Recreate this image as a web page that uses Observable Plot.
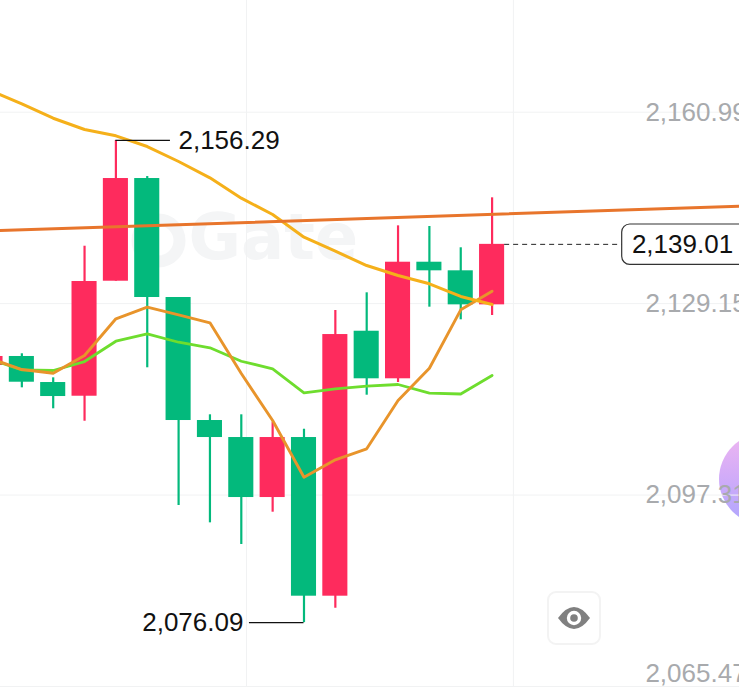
<!DOCTYPE html>
<html>
<head>
<meta charset="utf-8">
<script src="https://cdn.jsdelivr.net/npm/d3@7"></script>
<script src="https://cdn.jsdelivr.net/npm/@observablehq/plot@0.6"></script>
<style>
html,body{margin:0;padding:0;background:#fff;overflow:hidden}
#stage{position:relative;width:739px;height:696px;overflow:hidden}
#orb{position:absolute;left:719px;top:433px;width:92px;height:92px;border-radius:50%;background:linear-gradient(180deg,#efb6f0 0%,#d3acf8 45%,#aea6fd 100%)}
#chart{position:absolute;left:0;top:0}
#chart svg{display:block}
#eye{position:absolute;left:547px;top:591px;width:50px;height:50px;border:2px solid #f3f3f3;border-radius:9px;background:#fff;display:flex;align-items:center;justify-content:center}
</style>
</head>
<body>
<div id="stage">
  <div id="orb"></div>
  <div id="chart"></div>
  <div id="eye"><svg width="32" height="22" viewBox="0 0 32 22"><path d="M0 11 Q8 0 16 0 Q24 0 32 11 Q24 22 16 22 Q8 22 0 11Z" fill="#808080"/><circle cx="16" cy="11" r="7.2" fill="#fff"/><circle cx="16" cy="11" r="3.8" fill="#808080"/></svg></div>
</div>
<script>
const index = [0,1,2,3,4,5,6,7,8,9,10,11,12,13,14,15,16];
const opens  = [2118.86,2120.36,2116.03,2113.75,2132.88,2149.96,2130.17,2109.71,2106.88,2096.90,2106.88,2080.49,2124.56,2116.65,2136.04,2134.61,2128.95];
const closes = [2120.36,2116.08,2113.70,2132.83,2149.96,2130.17,2109.71,2106.88,2096.90,2106.88,2080.49,2124.01,2116.65,2136.04,2134.61,2128.95,2139.01];
const highs  = [2120.36,2120.81,2116.81,2138.70,2156.29,2150.29,2130.17,2110.66,2110.66,2109.43,2108.26,2128.01,2130.95,2142.09,2141.98,2138.44,2146.75];
const lows   = [2118.86,2115.15,2111.66,2109.59,2132.88,2118.48,2095.57,2092.69,2089.09,2094.46,2076.09,2078.49,2113.92,2116.03,2128.56,2126.46,2127.18];
const maYellow = [2164.60,2162.39,2159.99,2158.11,2157.06,2155.28,2152.79,2150.08,2146.69,2143.97,2140.20,2137.87,2135.49,2133.83,2132.45,2130.34,2129.00];
const maOrange = [2120.02,2118.19,2117.58,2120.52,2126.63,2128.56,2127.29,2125.96,2117.53,2109.71,2100.28,2103.17,2105.00,2113.04,2118.41,2128.12,2131.22];
const maGreen  = [2119.86,2118.14,2118.03,2119.52,2122.90,2124.13,2122.73,2121.80,2119.57,2118.31,2114.32,2114.98,2115.42,2115.70,2114.28,2114.12,2117.20];
const trendIndex = [0,24];
const trendValues = [2141.25,2145.37];
const gridPrices = [2160.99,2129.15,2097.31,2065.47];
const gridLabels = ["2,160.99","2,129.15","2,097.31","2,065.47"];
const gridTimes = [8.166,16.68];
const highPrice = 2156.29, lowPrice = 2076.09, lastPrice = 2139.01;

const candles = index.map((i,k)=>({i,open:opens[k],close:closes[k],high:highs[k],low:lows[k]}));
const RED="#FE2B5D", GREEN="#03B97C";
const col = d => d.close>d.open?RED:GREEN;
const series = a => index.map((i,k)=>({i,v:a[k]}));
const font = "Liberation Sans, Arial, Helvetica, sans-serif";
const wm = "#f4f5f6";
const fs = 26;

const plot = Plot.plot({
  width:739,height:696,marginTop:0,marginRight:0,marginBottom:10,marginLeft:0,
  style:{background:"transparent",fontFamily:font},
  x:{domain:[0.319,23.892],range:[0,739],axis:null},
  y:{domain:[2065.47,2179.57],range:[686,0],axis:null},
  marks:[
    Plot.dot([0],{frameAnchor:"top-left",dx:158,dy:240,r:21,stroke:wm,strokeWidth:12,fill:"none"}),
    Plot.text(["Gate"],{frameAnchor:"top-left",dx:188,dy:238,fontSize:64,fontWeight:"bold",fontFamily:"DejaVu Sans",fill:wm,textAnchor:"start",lineAnchor:"middle"}),
    Plot.ruleY(gridPrices,{stroke:"#f1f2f3",strokeWidth:1}),
    Plot.ruleX(gridTimes,{stroke:"#f1f2f3",strokeWidth:1}),
    Plot.ruleX(candles,{x:"i",y1:"low",y2:"high",stroke:col,strokeWidth:2.2}),
    Plot.rect(candles,{x1:d=>d.i-0.4,x2:d=>d.i+0.4,y1:"open",y2:"close",fill:col}),
    Plot.line(series(maGreen),{x:"i",y:"v",stroke:"#6EDD2E",strokeWidth:2.8}),
    Plot.line(series(maOrange),{x:"i",y:"v",stroke:"#E8942B",strokeWidth:2.9}),
    Plot.line(series(maYellow),{x:"i",y:"v",stroke:"#F5B01A",strokeWidth:3}),
    Plot.line(trendIndex.map((i,k)=>({i,v:trendValues[k]})),{x:"i",y:"v",stroke:"#E8752C",strokeWidth:3}),
    Plot.text(gridPrices.slice(0,3),{x:20.89,y:d=>d,text:(d,k)=>gridLabels[k],textAnchor:"start",fontSize:fs,fill:"#a8aaad"}),
    Plot.text([2065.47],{x:20.89,y:d=>d,dy:-13,text:()=>gridLabels[3],textAnchor:"start",fontSize:fs,fill:"#a8aaad"}),
    Plot.ruleY([highPrice],{x1:4,x2:5.74,stroke:"#111",strokeWidth:1.2}),
    Plot.text([highPrice],{x:5.74,y:d=>d,dx:8,text:d=>d3.format(",.2f")(d),textAnchor:"start",fontSize:fs,fill:"#111"}),
    Plot.ruleY([lowPrice],{x1:8.26,x2:10,stroke:"#111",strokeWidth:1.2}),
    Plot.text([lowPrice],{x:8.26,y:d=>d,dx:-6,text:d=>d3.format(",.2f")(d),textAnchor:"end",fontSize:fs,fill:"#111"}),
    Plot.ruleY([lastPrice],{x1:16.4,x2:20.15,stroke:"#222",strokeWidth:1,strokeDasharray:"5 4"}),
    Plot.rect([lastPrice],{x1:20.15,x2:24.5,y1:2135.61,y2:2142.31,rx:8,fill:"#fff",stroke:"#333",strokeWidth:1.2}),
    Plot.text([lastPrice],{x:20.46,y:d=>d,text:d=>d3.format(",.2f")(d),textAnchor:"start",fontSize:fs,fill:"#111"})
  ]
});
document.getElementById("chart").appendChild(plot);
</script>
</body>
</html>
